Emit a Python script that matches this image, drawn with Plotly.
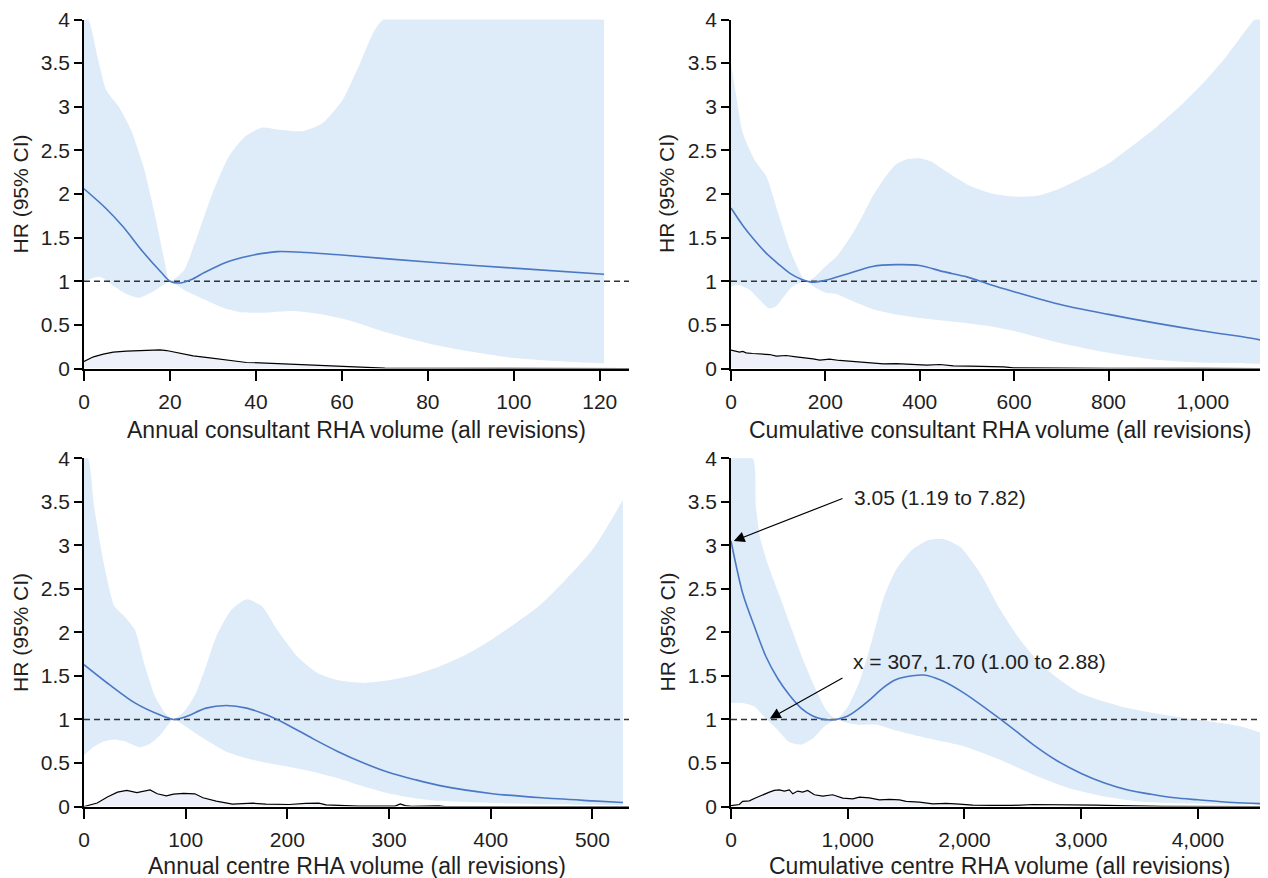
import plotly.graph_objects as go

# ---------------- data ----------------
# Panel 1: annual consultant RHA volume
hr1_x = [0, 5, 9, 14, 18, 20, 22.3, 25, 28, 32.7, 38.4, 45, 51.7, 60, 80, 100, 121]
hr1_y = [2.06, 1.84, 1.63, 1.32, 1.10, 1.0, 0.98, 1.02, 1.10, 1.21, 1.29, 1.34, 1.33, 1.30, 1.22, 1.15, 1.08]
up1_x = [0, 1, 3.3, 5.2, 8.1, 10.9, 13.8, 16.6, 18.5, 20, 23.3, 26.1, 29.9, 33.7, 37.5, 41.3, 45, 50.8, 55.5, 60.2, 64, 69.7, 121]
up1_y = [4, 4, 3.54, 3.19, 3.0, 2.74, 2.32, 1.74, 1.29, 1.0, 1.13, 1.48, 2.01, 2.43, 2.66, 2.76, 2.74, 2.72, 2.81, 3.08, 3.47, 4.0, 4.0]
lo1_x = [0, 3.8, 7.1, 10, 12.8, 15.7, 18.5, 20, 23.3, 28, 32.7, 36.5, 41.3, 48.9, 55.5, 61.2, 70.7, 80, 86.8, 100, 113, 121]
lo1_y = [1.0, 1.05, 0.94, 0.85, 0.81, 0.87, 0.96, 1.0, 0.90, 0.79, 0.69, 0.645, 0.64, 0.66, 0.62, 0.56, 0.41, 0.29, 0.22, 0.12, 0.076, 0.057]
de1_x = [0, 2.2, 4.5, 6.8, 9.9, 13.8, 17.7, 19.2, 21.6, 25.4, 29.3, 33.2, 37.8, 40.9, 44.8, 48.7, 53.3, 58, 62.6, 64.2, 70, 80, 100, 126.8]
de1_y = [0.08, 0.134, 0.164, 0.187, 0.198, 0.206, 0.214, 0.206, 0.179, 0.145, 0.122, 0.095, 0.069, 0.065, 0.057, 0.05, 0.042, 0.031, 0.019, 0.011, 0.005, 0.003, 0.001, 0]

# Panel 2: cumulative consultant RHA volume
hr2_x = [0, 25, 50, 75, 100, 125, 150, 170, 200, 250, 300, 350, 400, 450, 500, 550, 600, 700, 800, 900, 1000, 1100, 1138]
hr2_y = [1.84, 1.64, 1.47, 1.32, 1.20, 1.09, 1.02, 0.99, 1.01, 1.09, 1.17, 1.19, 1.18, 1.11, 1.05, 0.96, 0.88, 0.73, 0.62, 0.52, 0.43, 0.35, 0.31]
up2_x = [0, 10, 25, 50, 75, 100, 125, 150, 160, 175, 200, 225, 250, 275, 300, 325, 350, 375, 400, 425, 450, 500, 550, 600, 650, 700, 750, 800, 850, 900, 950, 1000, 1050, 1100, 1110, 1138]
up2_y = [3.50, 3.16, 2.70, 2.39, 2.20, 1.78, 1.36, 1.06, 1.0, 1.04, 1.17, 1.29, 1.48, 1.71, 1.97, 2.18, 2.34, 2.40, 2.41, 2.37, 2.28, 2.11, 2.01, 1.97, 1.98, 2.07, 2.20, 2.35, 2.55, 2.76, 3.00, 3.27, 3.58, 3.94, 4.0, 4.0]
lo2_x = [0, 15, 40, 60, 80, 95, 110, 130, 160, 175, 200, 225, 250, 300, 350, 400, 450, 500, 550, 600, 700, 800, 900, 1000, 1100, 1138]
lo2_y = [0.94, 0.96, 0.90, 0.79, 0.69, 0.71, 0.81, 0.94, 1.0, 0.94, 0.87, 0.85, 0.79, 0.68, 0.62, 0.58, 0.55, 0.52, 0.485, 0.43, 0.29, 0.18, 0.10, 0.065, 0.057, 0.053]
de2_x = [0, 5, 11, 18, 25, 32, 46, 60, 82, 96, 117, 138, 155, 174, 188, 209, 230, 259, 294, 323, 351, 379, 415, 443, 471, 507, 543, 578, 599, 650, 800, 1000, 1138]
de2_y = [0.21, 0.205, 0.20, 0.187, 0.195, 0.18, 0.172, 0.165, 0.16, 0.141, 0.149, 0.134, 0.125, 0.11, 0.095, 0.107, 0.092, 0.08, 0.065, 0.053, 0.057, 0.046, 0.038, 0.046, 0.03, 0.027, 0.023, 0.019, 0.008, 0.005, 0.003, 0.001, 0]

# Panel 3: annual centre RHA volume
hr3_x = [0, 25, 50, 75, 88, 100, 120, 140, 160, 180, 200, 225, 250, 275, 300, 325, 350, 400, 450, 500, 530]
hr3_y = [1.63, 1.40, 1.19, 1.05, 1.0, 1.03, 1.13, 1.16, 1.13, 1.05, 0.94, 0.78, 0.63, 0.50, 0.39, 0.31, 0.24, 0.15, 0.10, 0.065, 0.046]
up3_x = [0, 4, 10, 20, 30, 40, 50, 60, 70, 80, 88, 100, 110, 120, 130, 145, 160, 175, 190, 210, 230, 250, 275, 300, 325, 350, 375, 400, 450, 500, 530]
up3_y = [4, 4, 3.44, 2.76, 2.30, 2.18, 2.03, 1.61, 1.26, 1.07, 1.0, 1.11, 1.30, 1.61, 1.95, 2.26, 2.38, 2.30, 2.03, 1.72, 1.53, 1.45, 1.42, 1.45, 1.51, 1.61, 1.74, 1.91, 2.33, 2.95, 3.52]
lo3_x = [0, 10, 20, 30, 40, 50, 55, 65, 75, 88, 100, 110, 125, 140, 160, 180, 200, 225, 250, 275, 300, 325, 350, 400, 450, 500, 530]
lo3_y = [0.59, 0.69, 0.75, 0.77, 0.75, 0.70, 0.68, 0.72, 0.82, 1.0, 0.92, 0.84, 0.73, 0.63, 0.555, 0.50, 0.46, 0.40, 0.325, 0.23, 0.15, 0.096, 0.065, 0.04, 0.027, 0.02, 0.015]
de3_x = [0, 13, 23, 33, 42, 52, 65, 72, 81, 88, 98, 109, 117, 130, 146, 166, 179, 202, 218, 231, 238, 254, 270, 306, 311, 316, 322, 349, 355, 536]
de3_y = [0, 0.04, 0.11, 0.165, 0.185, 0.16, 0.19, 0.146, 0.123, 0.142, 0.15, 0.146, 0.10, 0.062, 0.027, 0.038, 0.027, 0.023, 0.035, 0.038, 0.019, 0.01, 0.004, 0.004, 0.03, 0.01, 0.003, 0.008, 0, 0]

# Panel 4: cumulative centre RHA volume
hr4_x = [0, 100, 200, 300, 400, 500, 600, 700, 800, 900, 1000, 1100, 1200, 1300, 1400, 1500, 1650, 1800, 2000, 2200, 2400, 2600, 2800, 3000, 3200, 3400, 3600, 3800, 4000, 4300, 4600]
hr4_y = [3.05, 2.45, 2.07, 1.72, 1.47, 1.28, 1.13, 1.04, 1.00, 1.00, 1.04, 1.13, 1.24, 1.36, 1.45, 1.49, 1.51, 1.45, 1.30, 1.11, 0.91, 0.70, 0.52, 0.38, 0.27, 0.19, 0.14, 0.10, 0.077, 0.046, 0.03]
up4_x = [0, 185, 213, 247, 316, 419, 522, 625, 728, 814, 900, 1002, 1105, 1208, 1311, 1414, 1552, 1689, 1826, 1964, 2135, 2307, 2479, 2650, 2822, 2993, 3337, 3680, 4023, 4366, 4600]
up4_y = [4, 4, 3.45, 3.10, 2.78, 2.41, 2.03, 1.66, 1.34, 1.11, 1.0, 1.15, 1.45, 1.91, 2.41, 2.72, 2.95, 3.06, 3.07, 2.98, 2.68, 2.26, 1.91, 1.64, 1.45, 1.30, 1.15, 1.06, 0.99, 0.92, 0.82]
lo4_x = [0, 100, 200, 300, 400, 500, 600, 700, 800, 900, 1000, 1100, 1250, 1400, 1700, 2000, 2300, 2600, 2900, 3200, 3500, 3800, 4200, 4600]
lo4_y = [1.19, 1.19, 1.15, 1.01, 0.88, 0.74, 0.71, 0.78, 0.92, 1.0, 0.96, 0.94, 0.94, 0.88, 0.78, 0.69, 0.54, 0.36, 0.21, 0.115, 0.057, 0.038, 0.027, 0.023]
de4_x = [0, 71, 100, 157, 214, 271, 329, 371, 414, 457, 500, 529, 571, 614, 657, 714, 786, 871, 957, 1043, 1100, 1186, 1271, 1357, 1443, 1500, 1614, 1729, 1843, 1957, 2071, 2243, 2414, 2586, 2700, 2871, 3014, 3129, 3214, 3386, 3557, 3614, 3700, 4600]
de4_y = [0.01, 0.023, 0.06, 0.065, 0.10, 0.135, 0.165, 0.185, 0.19, 0.177, 0.19, 0.146, 0.177, 0.165, 0.185, 0.135, 0.12, 0.135, 0.096, 0.088, 0.108, 0.10, 0.077, 0.081, 0.077, 0.058, 0.05, 0.031, 0.035, 0.027, 0.015, 0.012, 0.012, 0.023, 0.023, 0.015, 0.023, 0.015, 0.012, 0.008, 0.012, 0.004, 0.002, 0]

x_titles = ["Annual consultant RHA volume (all revisions)",
            "Cumulative consultant RHA volume (all revisions)",
            "Annual centre RHA volume (all revisions)",
            "Cumulative centre RHA volume (all revisions)"]
y_title = "HR (95% CI)"
x_ranges = [[0, 126.8], [0, 1138], [0, 536], [0, 4600]]
x_ticks = [[0, 20, 40, 60, 80, 100, 120],
           [0, 200, 400, 600, 800, 1000],
           [0, 100, 200, 300, 400, 500],
           [0, 1000, 2000, 3000, 4000]]
y_ticks = [0, 0.5, 1, 1.5, 2, 2.5, 3, 3.5, 4]
y_tick_labels = ["0", "0.5", "1", "1.5", "2", "2.5", "3", "3.5", "4"]
REF_HR = 1

ann_text = ["3.05 (1.19 to 7.82)", "x = 307, 1.70 (1.00 to 2.88)"]
ann_head = [(24, 3.05), (333, 1.01)]
ann_tail = [(968, 3.545), (968, 1.485)]
ann_label_pos = [(1037, 3.545), (1030, 1.665)]

# ---------------- styling / layout ----------------
BAND = "#deebf8"
LINE = "#4a78c5"
DENS_FILL = "#eef1f9"
INK = "#1f1f1f"
FONT = "Liberation Sans, Arial, sans-serif"
PAGE_OFF = 8           # default body margin of the html page
W, H = 1268 - PAGE_OFF, 878 - PAGE_OFF


def px_x(p):
    return (p - PAGE_OFF) / W


def px_y(p):
    return 1 - (p - PAGE_OFF) / H


panels = [
    (hr1_x, hr1_y, up1_x, up1_y, lo1_x, lo1_y, de1_x, de1_y),
    (hr2_x, hr2_y, up2_x, up2_y, lo2_x, lo2_y, de2_x, de2_y),
    (hr3_x, hr3_y, up3_x, up3_y, lo3_x, lo3_y, de3_x, de3_y),
    (hr4_x, hr4_y, up4_x, up4_y, lo4_x, lo4_y, de4_x, de4_y),
]

x_domains = [[px_x(84), px_x(629)], [px_x(731), 1.0], [px_x(84), px_x(629)], [px_x(731), 1.0]]
y_domains = [[px_y(368.5), px_y(19.5)], [px_y(368.5), px_y(19.5)],
             [px_y(806.5), px_y(458.3)], [px_y(806.5), px_y(458.3)]]

fig = go.Figure()
for i, (hx, hy, ux, uy, lx, ly, dx, dy) in enumerate(panels):
    xa = "x" if i == 0 else f"x{i + 1}"
    ya = "y" if i == 0 else f"y{i + 1}"
    fig.add_trace(go.Scatter(x=lx, y=ly, mode="lines",
                             line=dict(width=0, color=BAND, shape="spline", smoothing=0.6),
                             xaxis=xa, yaxis=ya, hoverinfo="skip"))
    fig.add_trace(go.Scatter(x=ux, y=uy, mode="lines", fill="tonexty", fillcolor=BAND,
                             line=dict(width=0, color=BAND, shape="spline", smoothing=0.6),
                             xaxis=xa, yaxis=ya, hoverinfo="skip"))
    fig.add_trace(go.Scatter(x=[x_ranges[i][0], x_ranges[i][1]], y=[REF_HR, REF_HR], mode="lines",
                             line=dict(color="#333333", width=1.4, dash="6px,4px"),
                             xaxis=xa, yaxis=ya, hoverinfo="skip"))
    fig.add_trace(go.Scatter(x=hx, y=hy, mode="lines",
                             line=dict(color=LINE, width=1.6, shape="spline", smoothing=0.8),
                             xaxis=xa, yaxis=ya))
    fig.add_trace(go.Scatter(x=dx, y=dy, mode="lines", fill="tozeroy", fillcolor=DENS_FILL,
                             line=dict(color="black", width=1.2),
                             xaxis=xa, yaxis=ya))

layout = dict(width=W, height=H, margin=dict(l=0, r=0, t=0, b=0, pad=0, autoexpand=False),
              paper_bgcolor="white", plot_bgcolor="rgba(0,0,0,0)", showlegend=False,
              font=dict(family=FONT, color=INK, size=20))
for i in range(4):
    xk = "xaxis" if i == 0 else f"xaxis{i + 1}"
    yk = "yaxis" if i == 0 else f"yaxis{i + 1}"
    ya = "y" if i == 0 else f"y{i + 1}"
    xa = "x" if i == 0 else f"x{i + 1}"
    layout[xk] = dict(domain=x_domains[i], range=x_ranges[i], anchor=ya, automargin=False,
                      showline=True, linecolor="black", linewidth=2.4,
                      ticks="outside", ticklen=10, tickwidth=1.5, tickcolor="black",
                      tickvals=x_ticks[i], tickformat=",d", showgrid=False, zeroline=False,
                      tickfont=dict(size=21, color=INK), ticklabelstandoff=3,
                      ticklabeloverflow="allow")
    layout[yk] = dict(domain=y_domains[i], range=[0, 4], anchor=xa, automargin=False,
                      showline=True, linecolor="black", linewidth=1.5,
                      ticks="outside", ticklen=8, tickwidth=1.5, tickcolor="black",
                      tickvals=y_ticks, ticktext=y_tick_labels, showgrid=False, zeroline=False,
                      tickfont=dict(size=21, color=INK), ticklabeloverflow="allow")
fig.update_layout(**layout)

annotations = []
x_title_y = [px_y(430), px_y(430), px_y(866), px_y(866)]
y_title_x = [px_x(20.5), px_x(667), px_x(20.5), px_x(667)]
for i in range(4):
    annotations.append(dict(text=x_titles[i], xref="paper", yref="paper",
                            x=(x_domains[i][0] + x_domains[i][1]) / 2, y=x_title_y[i],
                            xanchor="center", yanchor="middle", showarrow=False,
                            font=dict(size=23, color=INK)))
    annotations.append(dict(text=y_title, xref="paper", yref="paper",
                            x=y_title_x[i], y=(y_domains[i][0] + y_domains[i][1]) / 2,
                            xanchor="center", yanchor="middle", textangle=-90, showarrow=False,
                            font=dict(size=21, color=INK)))
for (hx0, hy0), (tx, ty), (lxp, lyp), txt in zip(ann_head, ann_tail, ann_label_pos, ann_text):
    annotations.append(dict(x=hx0, y=hy0, ax=tx, ay=ty, xref="x4", yref="y4", axref="x4", ayref="y4",
                            text="", showarrow=True, arrowhead=2, arrowsize=1.8, arrowwidth=1.2,
                            arrowcolor="black"))
    annotations.append(dict(x=lxp, y=lyp, xref="x4", yref="y4", text=txt, showarrow=False,
                            xanchor="left", yanchor="middle", font=dict(size=21, color=INK)))
fig.update_layout(annotations=annotations)

fig.write_html("out.html")
